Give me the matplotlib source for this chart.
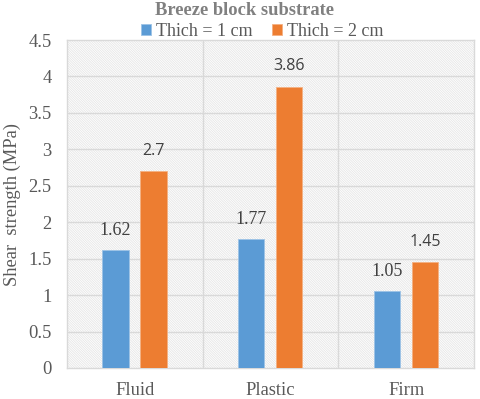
import matplotlib.pyplot as plt
from matplotlib.patches import Rectangle
import numpy as np

categories = ['Fluid', 'Plastic', 'Firm']
thick_1cm = [1.62, 1.77, 1.05]
thick_2cm = [2.7, 3.86, 1.45]
labels_1cm = ['1.62', '1.77', '1.05']
labels_2cm = ['2.7', '3.86', '1.45']
yticks = [0, 0.5, 1, 1.5, 2, 2.5, 3, 3.5, 4, 4.5]

plt.rcParams['font.family'] = ['Liberation Serif', 'DejaVu Serif']
plt.rcParams['hatch.linewidth'] = 0.6

fig = plt.figure(figsize=(4.8, 3.99), dpi=100)
ax = fig.add_axes([0.1396, 0.0777, 0.848, 0.822])

# faint diagonal pattern fill of the plot area
bg = Rectangle((0, 0), 1, 1, transform=ax.transAxes, facecolor='white',
               edgecolor='#e6e6e6', hatch='\\' * 14, linewidth=0, zorder=0)
ax.add_patch(bg)

x = np.arange(len(categories)) + 0.5
w = 0.195
blue = '#5b9bd5'
orange = '#ed7d31'
ax.bar(x - 0.142, thick_1cm, width=w, color=blue, edgecolor='#9dc3e6', linewidth=0.6,
       label='Thich = 1 cm', zorder=3)
ax.bar(x + 0.138, thick_2cm, width=w, color=orange, edgecolor='#f4b183', linewidth=0.6,
       label='Thich = 2 cm', zorder=3)

for xpos, val, txt in zip(x - 0.142, thick_1cm, labels_1cm):
    ax.annotate(txt, (xpos, val), xytext=(0, 8), textcoords='offset points',
                ha='center', va='bottom', fontsize=13, color='#404040',
                family=['Liberation Serif'])
for xpos, val, txt in zip(x + 0.138, thick_2cm, labels_2cm):
    ax.annotate(txt, (xpos, val), xytext=(0, 9), textcoords='offset points',
                ha='center', va='bottom', fontsize=11.5, color='#404040',
                family=['Open Sans', 'DejaVu Sans'])

ax.set_xlim(0, 3)
ax.set_ylim(0, 4.5)
ax.set_yticks(yticks)
ax.set_yticklabels([('%g' % t) for t in yticks])
ax.set_xticks(x)
ax.set_xticklabels(categories)
ax.tick_params(length=0, labelsize=13.3, colors='#595959')
ax.tick_params(axis='x', pad=10)
ax.tick_params(axis='y', pad=11)

for yv in yticks[1:-1]:
    ax.axhline(yv, color='#d9d9d9', linewidth=1, zorder=1)
for xv in [1, 2]:
    ax.axvline(xv, color='#d9d9d9', linewidth=1, zorder=1)
for s in ax.spines.values():
    s.set_color('#d9d9d9')
    s.set_linewidth(1)

ax.set_ylabel('Shear  strength (MPa)', fontsize=13.3, color='#595959', labelpad=5)

fig.text(0.51, 0.974, 'Breeze block substrate', ha='center', va='center',
         fontsize=13.3, fontweight='bold', color='#808080')
ax.legend(loc='center', bbox_to_anchor=(0.48, 1.026), ncol=2, frameon=False,
          fontsize=13, handlelength=0.55, handleheight=0.55, handletextpad=0.25,
          columnspacing=1.1, borderpad=0, labelcolor='#595959')

fig.savefig('out.png', dpi=100)
